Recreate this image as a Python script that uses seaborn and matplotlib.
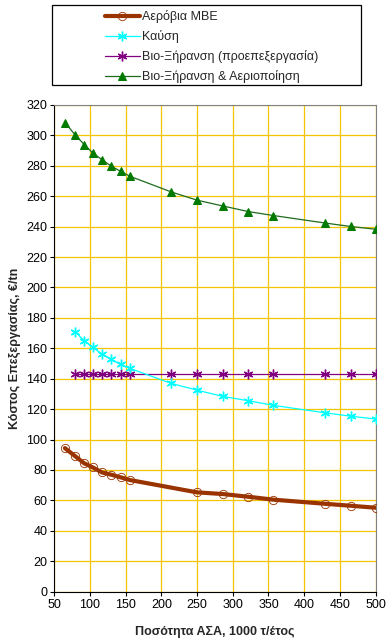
import numpy as np
import matplotlib
matplotlib.use("Agg")
import matplotlib.pyplot as plt
import seaborn as sns
from matplotlib.patches import Rectangle

# data
x_mbe = [65, 79, 92, 104, 117, 130, 143, 156, 250, 286, 322, 357, 429, 465, 500]
y_mbe = [94.4, 89.2, 84.4, 81.7, 78.4, 76.9, 75.2, 73.4, 65.3, 64.2, 62.4, 60.5, 57.8, 56.5, 55.2]

x_kausi = [79, 92, 104, 117, 130, 143, 156, 214, 250, 286, 322, 357, 429, 465, 500]
y_kausi = [171, 165, 160.6, 156.2, 152.7, 149.4, 146.8, 136.9, 132.5, 128.4, 125.5, 122.5, 117.6, 115.4, 113.5]

x_bio = [79, 92, 104, 117, 130, 143, 156, 214, 250, 286, 322, 357, 429, 465, 500]
y_bio = [143, 143, 143, 143, 143, 143, 143, 143, 143, 143, 143, 143, 143, 143, 143]

x_aerio = [65, 79, 92, 104, 117, 130, 143, 156, 214, 250, 286, 322, 357, 429, 465, 500]
y_aerio = [308.4, 300.5, 294, 288.4, 284, 279.7, 276.4, 273.1, 262.8, 257.4, 253.6, 249.9, 247.3, 242.4, 240.1, 238.3]

labels = ["Αερόβια ΜΒΕ", "Καύση", "Βιο-Ξήρανση (προεπεξεργασία)", "Βιο-Ξήρανση & Αεριοποίηση"]

sns.set_style("white")
plt.rcParams['font.family'] = ['Liberation Sans', 'DejaVu Sans']

fig = plt.figure(figsize=(3.9, 6.4), dpi=100)
ax = fig.add_axes([0.139, 0.0755, 0.824, 0.7605])

star = (6, 2, 0)
sns.lineplot(x=x_mbe, y=y_mbe, ax=ax, color="#993300", linewidth=3, marker="o", markersize=6,
             markerfacecolor="none", markeredgecolor="#993300", markeredgewidth=0.6,
             sort=False, label=labels[0], zorder=5)
sns.lineplot(x=x_kausi, y=y_kausi, ax=ax, color="#00FFFF", linewidth=0.9, marker=star, markersize=7,
             markeredgecolor="#00FFFF", markeredgewidth=1.0, sort=False, label=labels[1], zorder=4)
sns.lineplot(x=x_bio, y=y_bio, ax=ax, color="#800080", linewidth=0.9, marker=star, markersize=7,
             markeredgecolor="#800080", markeredgewidth=1.0, sort=False, label=labels[2], zorder=3)
sns.lineplot(x=x_aerio, y=y_aerio, ax=ax, color="#1E6B1E", linewidth=0.9, marker="^", markersize=5.5,
             markerfacecolor="#007A00", markeredgecolor="#007A00", sort=False, label=labels[3], zorder=3)

ax.set_xlim(50, 500)
ax.set_ylim(0, 320)
ax.set_xticks(np.arange(50, 501, 50))
ax.set_yticks(np.arange(0, 321, 20))
ax.grid(True, color="#F2C500", linewidth=0.9)
ax.set_axisbelow(True)
ax.tick_params(axis="both", labelsize=9, direction="out", length=3, width=0.8, colors="black", pad=2,
               left=True, bottom=True)
for side in ["left", "bottom"]:
    ax.spines[side].set_color("black")
    ax.spines[side].set_linewidth(0.8)
for side in ["top", "right"]:
    ax.spines[side].set_color("#808080")
    ax.spines[side].set_linewidth(0.8)

ax.set_xlabel("Ποσότητα ΑΣΑ, 1000 τ/έτος", fontsize=9, fontweight="bold", labelpad=11)
ax.set_ylabel("Κόστος Επεξεργασίας, €/tn", fontsize=9, fontweight="bold", labelpad=4)

# legend with an Excel style box behind it
handles, labs = ax.get_legend_handles_labels()
ax.get_legend().remove()
fig.patches.append(Rectangle((51.7 / 390, 1 - 85 / 640), (361 - 51.7) / 390, (85 - 4.7) / 640,
                             transform=fig.transFigure, facecolor="white", edgecolor="black",
                             linewidth=0.9, zorder=0))
leg = fig.legend(handles, labs, loc="upper left", bbox_to_anchor=(96 / 390, 1 - 1.5 / 640),
                 frameon=False, fontsize=9, handlelength=2.8, handletextpad=0.2,
                 labelspacing=0.55, borderpad=0.2)
leg.set_zorder(5)

fig.savefig("out.png", dpi=100)
